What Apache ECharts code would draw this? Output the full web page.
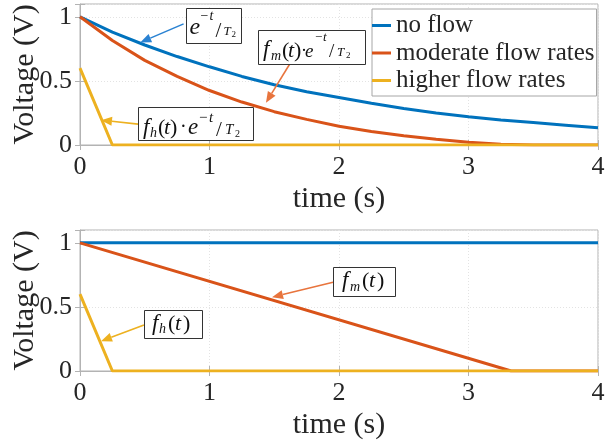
<!DOCTYPE html>
<html>
<head>
<meta charset="utf-8">
<script src="https://cdn.jsdelivr.net/npm/echarts@6/dist/echarts.min.js"></script>
<style>
  html, body { margin: 0; padding: 0; background: #ffffff; }
  #chart { width: 605px; height: 445px; }
</style>
</head>
<body>
<div id="chart"></div>
<script>
// --- data ---
const timeTop = [0, 0.25, 0.5, 0.75, 1, 1.25, 1.5, 1.75, 2, 2.25, 2.5, 2.75, 3, 3.25, 3.5, 3.75, 4];
const noFlowTop = [1, 0.88, 0.78, 0.69, 0.61, 0.535, 0.47, 0.415, 0.37, 0.325, 0.285, 0.25, 0.22, 0.195, 0.175, 0.155, 0.135];
const moderateTop = [1, 0.815, 0.66, 0.535, 0.425, 0.335, 0.26, 0.2, 0.147, 0.106, 0.072, 0.044, 0.022, 0.005, 0, 0, 0];
const highTime = [0, 0.25, 4];
const highVals = [0.6, 0, 0];
const noFlowTimeBottom = [0, 4];
const noFlowBottom = [1, 1];
const moderateTimeBottom = [0, 3.33, 4];
const moderateBottom = [1, 0, 0];
const seriesNames = ['no flow', 'moderate flow rates', 'higher flow rates'];
const xTicks = [0, 1, 2, 3, 4];
const yTicks = [0, 0.5, 1];

const colors = ['#0072BD', '#D95319', '#EDB120'];
const FONT = '"Liberation Serif", "Times New Roman", serif';
const textColor = '#262626';
const axisGray = '#b3b3b3';

function pairs(xs, ys) {
  return xs.map((x, i) => [x, ys[i]]);
}

const chart = echarts.init(document.getElementById('chart'));

function xAxisFor(idx) {
  return [{
    type: 'value', gridIndex: idx, min: 0, max: 4, interval: 1,
    axisLine: { show: true, lineStyle: { color: axisGray, width: 1 } },
    axisTick: { show: true, inside: true, length: 5, lineStyle: { color: axisGray } },
    splitLine: { show: true, lineStyle: { color: '#e3e3e3', type: [1, 2] } },
    axisLabel: {
      fontFamily: FONT, fontSize: 26, color: textColor, margin: 9,
      formatter: v => (xTicks.indexOf(v) >= 0 ? String(v) : '')
    },
    name: 'time (s)', nameLocation: 'middle', nameGap: 39, nameMoveOverlap: false,
    nameTextStyle: { fontFamily: FONT, fontSize: 30, color: textColor }
  }, {
    type: 'value', gridIndex: idx, min: 0, max: 4, interval: 1, position: 'top',
    axisLine: { show: false },
    axisTick: { show: true, inside: true, length: 5, lineStyle: { color: axisGray } },
    axisLabel: { show: false }, splitLine: { show: false }
  }];
}

function yAxisFor(idx) {
  return [{
    type: 'value', gridIndex: idx, min: 0, max: 1.1, interval: 0.5,
    axisLine: { show: true, lineStyle: { color: axisGray, width: 1 } },
    axisTick: { show: true, inside: true, length: 5, lineStyle: { color: axisGray } },
    splitLine: { show: true, lineStyle: { color: '#e3e3e3', type: [1, 2] } },
    axisLabel: {
      fontFamily: FONT, fontSize: 26, color: textColor, margin: 8,
      formatter: v => (yTicks.indexOf(v) >= 0 ? String(v) : '')
    },
    name: 'Voltage (V)', nameLocation: 'middle', nameGap: 40, nameMoveOverlap: false,
    nameTextStyle: { fontFamily: FONT, fontSize: 30, color: textColor }
  }, {
    type: 'value', gridIndex: idx, min: 0, max: 1.1, interval: 0.5, position: 'right',
    axisLine: { show: false },
    axisTick: { show: true, inside: true, length: 5, lineStyle: { color: axisGray } },
    axisLabel: { show: false }, splitLine: { show: false }
  }];
}

function lineSeries(name, data, color, xi, yi) {
  return {
    name: name, type: 'line', data: data,
    xAxisIndex: xi, yAxisIndex: yi,
    symbol: 'none',
    lineStyle: { color: color, width: 3 },
    itemStyle: { color: color },
    animation: false
  };
}

const gridBase = { left: 80, width: 518, height: 141, show: true, borderColor: axisGray, borderWidth: 1,
  containLabel: false, outerBoundsMode: 'none' };

chart.setOption({
  animation: false,
  grid: [
    Object.assign({ top: 4 }, gridBase),
    Object.assign({ top: 230 }, gridBase)
  ],
  xAxis: xAxisFor(0).concat(xAxisFor(1)),
  yAxis: yAxisFor(0).concat(yAxisFor(1)),
  legend: {
    data: seriesNames.map(n => ({ name: n, icon: 'rect' })),
    orient: 'vertical', left: 372, top: 9,
    padding: [4, 2, 3, 0],
    itemWidth: 19, itemHeight: 3, itemGap: 2.5,
    backgroundColor: '#ffffff', borderColor: '#a6a6a6', borderWidth: 1,
    textStyle: { fontFamily: FONT, fontSize: 25, color: textColor }
  },
  series: [
    lineSeries(seriesNames[0], pairs(timeTop, noFlowTop), colors[0], 0, 0),
    lineSeries(seriesNames[1], pairs(timeTop, moderateTop), colors[1], 0, 0),
    lineSeries(seriesNames[2], pairs(highTime, highVals), colors[2], 0, 0),
    lineSeries(seriesNames[0], pairs(noFlowTimeBottom, noFlowBottom), colors[0], 2, 2),
    lineSeries(seriesNames[1], pairs(moderateTimeBottom, moderateBottom), colors[1], 2, 2),
    lineSeries(seriesNames[2], pairs(highTime, highVals), colors[2], 2, 2)
  ]
});

// --- annotations (boxes in data coords, glyph offsets in px) ---
const I = true, N = false;
const annotations = [
  { grid: 0, box: [0.815, 1.07], w: 55, h: 35, tail: [0.80, 0.945], head: [0.465, 0.80], color: '#2a82d2',
    glyphs: [['e', 4, 28, 24, I], ['\u2212', 15, 13, 14, N], ['t', 24, 13, 14, I], ['/', 30, 30, 21, N], ['T', 38, 28, 13, I], ['2', 46, 30, 9, N]] },
  { grid: 0, box: [1.375, 0.899], w: 107, h: 34, tail: [1.622, 0.636], head: [1.436, 0.33], color: '#e8743d',
    glyphs: [['f', 5, 28, 23, I], ['m', 13, 31, 14, I], ['(', 24, 28, 22, N], ['t', 30, 28, 22, I], [')', 36, 28, 22, N],
             ['\u00b7', 43, 27, 18, N], ['e', 47, 28, 19, I], ['\u2212', 57, 12, 13, N], ['t', 65, 12, 13, I],
             ['/', 71, 28, 19, N], ['T', 79, 27, 13, I], ['2', 88, 29, 9, N]] },
  { grid: 0, box: [0.448, 0.295], w: 115, h: 33, tail: [0.448, 0.163], head: [0.162, 0.194], color: '#EDB120',
    glyphs: [['f', 5, 28, 23, I], ['h', 12, 31, 14, I], ['(', 20, 28, 22, N], ['t', 26, 28, 22, I], [')', 32, 28, 22, N],
             ['\u00b7', 42, 27, 20, N], ['e', 50, 28, 23, I], ['\u2212', 61, 16, 15, N], ['t', 71, 16, 15, I],
             ['/', 78, 30, 21, N], ['T', 87, 28, 15, I], ['2', 97, 30, 10, N]] },
  { grid: 1, box: [1.954, 0.809], w: 62, h: 29, tail: [1.954, 0.693], head: [1.483, 0.576], color: '#e8743d',
    glyphs: [['f', 9, 21, 23, I], ['m', 17, 24, 14, I], ['(', 29, 21, 22, N], ['t', 36, 21, 22, I], [')', 44, 21, 22, N]] },
  { grid: 1, box: [0.494, 0.475], w: 58, h: 28, tail: [0.494, 0.358], head: [0.162, 0.233], color: '#EDB120',
    glyphs: [['f', 8, 21, 23, I], ['h', 15, 24, 14, I], ['(', 24, 21, 22, N], ['t', 31, 21, 22, I], [')', 39, 21, 22, N]] }
];

function toPx(g, p) {
  return chart.convertToPixel({ gridIndex: g }, p);
}

function arrow(p1, p2, color) {
  const dx = p2[0] - p1[0], dy = p2[1] - p1[1];
  const len = Math.sqrt(dx * dx + dy * dy);
  const ux = dx / len, uy = dy / len;
  const hl = 11, hw = 4.5;
  const bx = p2[0] - ux * hl, by = p2[1] - uy * hl;
  return [{
    type: 'line', z: 50,
    shape: { x1: p1[0], y1: p1[1], x2: bx, y2: by },
    style: { stroke: color, lineWidth: 1.6 }
  }, {
    type: 'polygon', z: 50,
    shape: { points: [[p2[0], p2[1]], [bx - uy * hw, by + ux * hw], [bx + uy * hw, by - ux * hw]] },
    style: { fill: color }
  }];
}

const graphics = [];
annotations.forEach(a => {
  const b = toPx(a.grid, a.box);
  graphics.push.apply(graphics, arrow(toPx(a.grid, a.tail), toPx(a.grid, a.head), a.color));
  graphics.push({
    type: 'rect', z: 60,
    shape: { x: Math.round(b[0]) + 0.5, y: Math.round(b[1]) + 0.5, width: a.w, height: a.h },
    style: { fill: '#ffffff', stroke: '#333333', lineWidth: 1 }
  });
  a.glyphs.forEach(gl => {
    const size = gl[3];
    graphics.push({
      type: 'text', z: 61,
      style: {
        text: gl[0],
        x: b[0] + gl[1],
        y: b[1] + gl[2] - size * 0.32,
        font: (gl[4] ? 'italic ' : '') + size + 'px ' + FONT,
        fill: '#111111',
        align: 'left', verticalAlign: 'middle'
      }
    });
  });
});

chart.setOption({ graphic: graphics });
</script>
</body>
</html>
